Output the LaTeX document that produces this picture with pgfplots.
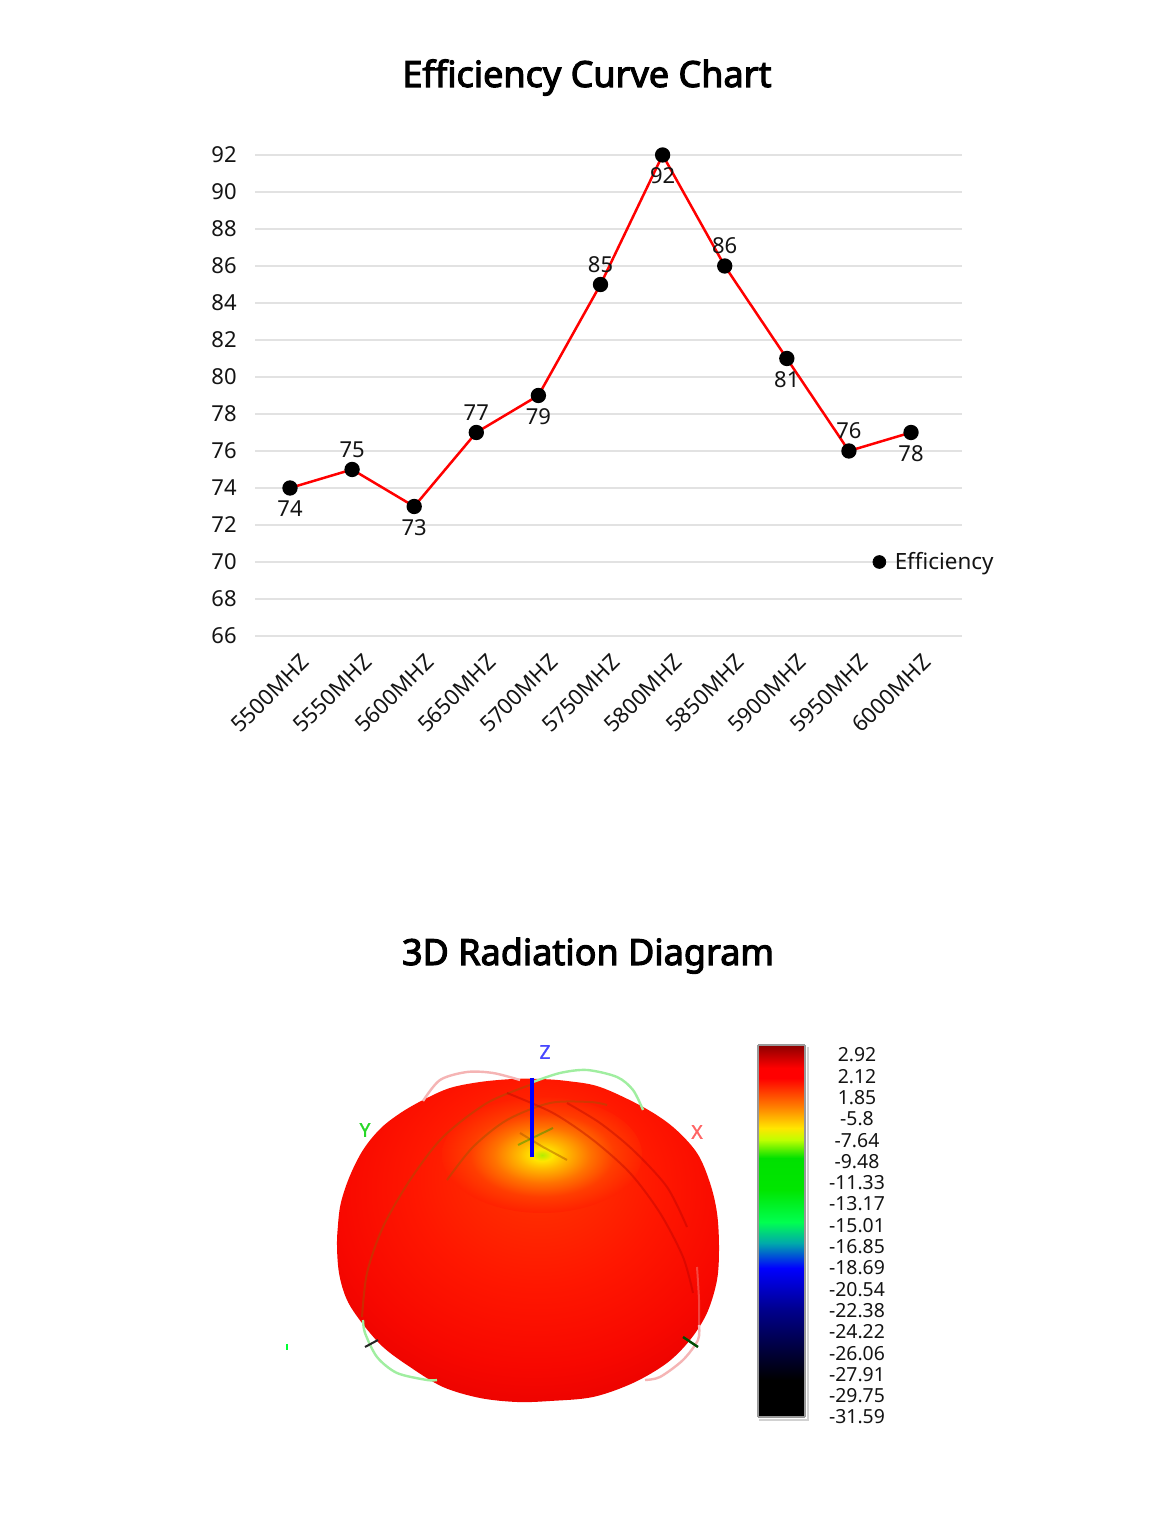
\documentclass[border=0pt]{standalone}
\usepackage{pgfplots}
\pgfplotsset{compat=1.18}
\usepackage{fontspec}
\setmainfont{Noto Sans}
\newfontfamily\titlefont{Noto Sans}[FakeBold=3]
\newfontfamily\axfont{Noto Sans}[FakeBold=1.5]
\definecolor{gridc}{RGB}{226,226,226}
\definecolor{txt}{RGB}{20,20,20}
\definecolor{zc}{RGB}{70,70,255}
\definecolor{yc}{RGB}{40,215,40}
\definecolor{xc}{RGB}{255,100,100}
\definecolor{pinkarc}{RGB}{245,180,180}
\definecolor{greenarc}{RGB}{160,238,160}
\definecolor{brownl}{RGB}{165,80,0}
\definecolor{darkl}{RGB}{170,0,0}
\pgfdeclareradialshading{blobshade}{\pgfpoint{1.8bp}{13.4bp}}{%
  rgb(0bp)=(1,0.25,0); rgb(8bp)=(1,0.16,0); rgb(16bp)=(1,0.09,0);
  rgb(26bp)=(0.97,0.03,0); rgb(34bp)=(0.9,0,0); rgb(42bp)=(0.8,0,0); rgb(50bp)=(0.76,0,0)}
\pgfdeclareradialshading{spotshade}{\pgfpoint{0bp}{0bp}}{%
  rgb(0bp)=(0.7,0.93,0); rgb(2.5bp)=(1,0.9,0); rgb(6bp)=(1,0.72,0);
  rgb(12bp)=(1,0.45,0); rgb(18bp)=(1,0.24,0); rgb(25bp)=(1,0.13,0); rgb(50bp)=(1,0.13,0)}
\pgfplotsset{
  colormap={radcm}{rgb255(0pt)=(0,0,0); rgb255(37pt)=(0,0,0); rgb255(72pt)=(0,0,70);
    rgb255(107pt)=(0,0,140); rgb255(149pt)=(0,0,255); rgb255(174pt)=(0,170,170);
    rgb255(195pt)=(0,255,80); rgb255(227pt)=(0,230,0); rgb255(259pt)=(0,225,0);
    rgb255(277pt)=(190,255,0); rgb255(289pt)=(255,230,0); rgb255(310pt)=(255,128,0);
    rgb255(339pt)=(255,0,0); rgb255(349pt)=(255,0,0); rgb255(372pt)=(140,0,0)}
}
\begin{document}
\begin{tikzpicture}
\path[use as bounding box, fill=white] (0,0) rectangle (587.5pt,764.5pt);

\node[anchor=base, font=\titlefont\fontsize{18}{21}\selectfont, text=black] at (293.5pt,721pt) {Efficiency Curve Chart};
\node[anchor=base, font=\titlefont\fontsize{18}{21}\selectfont, text=black] at (294pt,282pt) {3D Radiation Diagram};

% ---------------- efficiency chart
\begin{axis}[
  at={(127.5pt,446.5pt)}, anchor=south west,
  scale only axis, width=353.5pt, height=240.5pt,
  xmin=-0.5636, xmax=10.821, ymin=66, ymax=92,
  ytick={66,68,...,92}, xtick={0,...,10},
  xticklabels={5500MHZ,5550MHZ,5600MHZ,5650MHZ,5700MHZ,5750MHZ,5800MHZ,5850MHZ,5900MHZ,5950MHZ,6000MHZ},
  axis line style={draw=none}, tick style={draw=none},
  ymajorgrids, major grid style={draw=gridc, line width=0.9pt},
  clip=false,
  /pgf/number format/assume math mode=true,
  tick label style={font=\fontsize{11}{13}\selectfont, text=txt},
  yticklabel style={anchor=east, inner sep=0pt, xshift=-9pt},
  xticklabel style={inner sep=0pt, xshift=7.8pt, yshift=-11pt, rotate=45, anchor=east},
  legend style={at={(0.8735,0.1538)}, anchor=west, draw=none, fill=none, inner sep=0pt,
    font=\fontsize{11.2}{13}\selectfont, text=txt,
    /tikz/every odd column/.append style={column sep=2.5pt}},
  legend cell align=left,
]
\addplot[forget plot, red, line width=1.25pt, mark=*, mark size=3.2pt,
  mark options={draw=black, fill=black}]
  coordinates {(0,74) (1,75) (2,73) (3,77) (4,79) (5,85) (6,92) (7,86) (8,81) (9,76) (10,77)};
\addplot[forget plot, draw=none, mark=none, nodes near coords, point meta=explicit symbolic,
  every node near coord/.style={anchor=center, yshift=10pt, inner sep=0pt,
    font=\fontsize{11}{13}\selectfont, text=txt}]
  coordinates {(1,75)[75] (3,77)[77] (5,85)[85] (7,86)[86] (9,76)[76]};
\addplot[forget plot, draw=none, mark=none, nodes near coords, point meta=explicit symbolic,
  every node near coord/.style={anchor=center, yshift=-10.5pt, inner sep=0pt,
    font=\fontsize{11}{13}\selectfont, text=txt}]
  coordinates {(0,74)[74] (2,73)[73] (4,79)[79] (6,92)[92] (8,81)[81] (10,77)[78]};
\addlegendimage{only marks, mark=*, mark size=3.2pt, draw=black, fill=black}
\addlegendentry{Efficiency}
\end{axis}

% ---------------- radiation pattern picture (pixel coordinates, y up)
\begin{axis}[
  at={(135pt,54.5pt)}, anchor=south west,
  scale only axis, width=235pt, height=195pt,
  xmin=270, xmax=740, ymin=109, ymax=499,
  hide axis, clip=false,
]
\addplot[draw=none, shade, shading=blobshade, smooth, tension=0.55] coordinates {
 (337,289) (340,322) (349,351) (363,379) (381,401) (402,417) (425,430)
 (450,441) (480,447) (513,450) (540,450) (567,448) (600,442) (643,422)
 (673,402) (697,376) (710,346) (717,316) (719,282) (717,249) (707,216)
 (690,189) (667,166) (633,146) (593,132) (550,128) (517,127) (480,131)
 (443,142) (410,162) (383,182) (362,206) (347,229) (339,256) (337,289) (340,322)} -- cycle;
\shade[shading=spotshade] (axis cs:542,374) ellipse [x radius=100, y radius=58];
% faint arcs
\addplot[pinkarc, line width=1.2pt, smooth] coordinates {(423,428) (440,449) (467,457) (493,456) (520,449)};
\addplot[greenarc, line width=1.2pt, smooth] coordinates {(533,447) (560,456) (587,459) (617,452) (633,439) (643,419)};
\addplot[greenarc, line width=1.2pt, smooth] coordinates {(363,209) (365,196) (377,172) (397,156) (427,149) (437,149)};
\addplot[pinkarc, line width=1.2pt, smooth] coordinates {(699,204) (698,189) (683,169) (660,152) (645,149)};
\addplot[pinkarc, opacity=0.35, line width=1pt, smooth] coordinates {(697,262) (699,229) (699,204)};
% lines across the surface
\addplot[brownl, opacity=0.5, line width=1pt, smooth] coordinates {(530,444) (487,426) (443,392) (410,349) (383,302) (367,256) (362,212)};
\addplot[brownl, opacity=0.5, line width=1pt, smooth] coordinates {(447,349) (473,382) (507,409) (550,426) (590,427) (607,424)};
\addplot[darkl, opacity=0.35, line width=1pt, smooth] coordinates {(507,436) (553,416) (593,389) (630,356) (660,316) (683,272) (693,236)};
\addplot[darkl, opacity=0.35, line width=1pt, smooth] coordinates {(567,426) (600,406) (633,379) (667,342) (687,302)};
\addplot[brownl, opacity=0.45, line width=1pt] coordinates {(520,396) (543,382) (567,369)};
\addplot[green!60!black, opacity=0.4, line width=1pt] coordinates {(518,384) (553,401)};
% axis ticks
\addplot[black!85, line width=1pt] coordinates {(365,182) (378,189)};
\addplot[black!70!green, line width=1.2pt] coordinates {(683,192) (698,182)};
\addplot[green!80!cyan, line width=1.2pt] coordinates {(287,185) (287,179)};
% z axis
\addplot[blue, line width=1.8pt] coordinates {(532,451) (532,372)};
\node[text=zc, font=\axfont\fontsize{9.5}{10}\selectfont] at (axis cs:545,477) {Z};
\node[text=yc, font=\axfont\fontsize{9.5}{10}\selectfont] at (axis cs:365,399) {Y};
\node[text=xc, font=\axfont\fontsize{9.5}{10}\selectfont] at (axis cs:697,397) {X};
\end{axis}

% ---------------- colour bar
\begin{axis}[
  at={(379pt,56pt)}, anchor=south west,
  scale only axis, width=23.5pt, height=186pt,
  view={0}{90},
  xmin=0, xmax=1, ymin=0, ymax=372,
  colormap name=radcm,
  xtick=\empty, tick style={draw=none},
  ytick={0,21.29,42.59,63.88,85.18,106.47,127.76,149.06,170.35,191.65,212.94,234.24,255.53,276.82,298.12,319.41,340.71,362},
  yticklabels={-31.59,-29.75,-27.91,-26.06,-24.22,-22.38,-20.54,-18.69,-16.85,-15.01,-13.17,-11.33,-9.48,-7.64,-5.8,1.85,2.12,2.92},
  yticklabel pos=right,
  yticklabel style={anchor=center, xshift=26pt, font=\fontsize{9.7}{11}\selectfont, text=txt},
  axis line style={draw=black!40, line width=0.7pt},
  clip=false, axis on top,
]
\addplot3[surf, shader=interp, point meta=\thisrow{y}] table {
x y z
0 0 0
1 0 0

0 37 0
1 37 0

0 72 0
1 72 0

0 107 0
1 107 0

0 149 0
1 149 0

0 174 0
1 174 0

0 195 0
1 195 0

0 227 0
1 227 0

0 259 0
1 259 0

0 277 0
1 277 0

0 289 0
1 289 0

0 310 0
1 310 0

0 339 0
1 339 0

0 349 0
1 349 0

0 372 0
1 372 0
};
\draw[black!18, line width=1.2pt] ([xshift=1.5pt]rel axis cs:1,0.995,0) -- ([xshift=1.5pt,yshift=-1.5pt]rel axis cs:1,0,0) -- ([yshift=-1.5pt]rel axis cs:0.03,0,0);
\end{axis}
\end{tikzpicture}
\end{document}
